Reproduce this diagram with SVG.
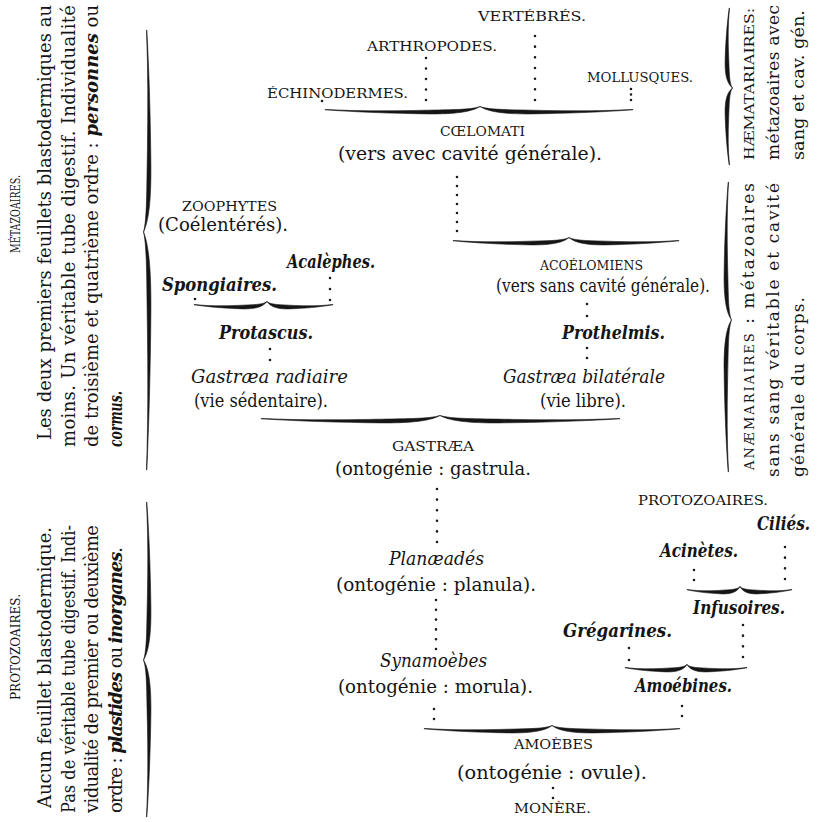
<svg xmlns="http://www.w3.org/2000/svg" xmlns:xlink="http://www.w3.org/1999/xlink" width="819" height="822" viewBox="0 0 819 822">
<defs>
<style>
text{font-family:"DejaVu Serif","Liberation Serif",serif;fill:#151515}
.t{font-size:18px}
.sc{font-size:13.5px}
.scs{font-size:12.5px}
.scr{font-size:13px}
.it{font-size:18px;font-style:italic}
.bi{font-size:18px;font-style:italic;font-weight:bold}
.r{font-size:17px}
.dot{stroke:#1a1a1a;stroke-width:2.6;stroke-linecap:round;fill:none}
.br{fill:#151515;stroke:#151515;stroke-width:0.6}
</style>
<path id="hb" d="M-1000,-2.5 C-800,-0.9 -600,-1.0 -400,-1.6 C-200,-2.4 -60,-2.0 0,-5.5 C-50,-0.5 -150,2.2 -330,1.9 C-550,1.5 -800,0.1 -1000,-2.2 Z" vector-effect="non-scaling-stroke"/>
</defs>
<rect width="819" height="822" fill="#ffffff"/>

<g id="braces">
<use xlink:href="#hb" class="br" transform="translate(480,112) scale(0.155,1)"/>
<use xlink:href="#hb" class="br" transform="translate(480,112) scale(-0.153,1)"/>
<use xlink:href="#hb" class="br" transform="translate(569,243) scale(0.116,1)"/>
<use xlink:href="#hb" class="br" transform="translate(569,243) scale(-0.110,1)"/>
<use xlink:href="#hb" class="br" transform="translate(267,307) scale(0.073,1)"/>
<use xlink:href="#hb" class="br" transform="translate(267,307) scale(-0.066,1)"/>
<use xlink:href="#hb" class="br" transform="translate(440,421) scale(0.179,1)"/>
<use xlink:href="#hb" class="br" transform="translate(440,421) scale(-0.180,1)"/>
<use xlink:href="#hb" class="br" transform="translate(740,592) scale(0.053,1)"/>
<use xlink:href="#hb" class="br" transform="translate(740,592) scale(-0.052,1)"/>
<use xlink:href="#hb" class="br" transform="translate(687,670) scale(0.062,1)"/>
<use xlink:href="#hb" class="br" transform="translate(687,670) scale(-0.060,1)"/>
<use xlink:href="#hb" class="br" transform="translate(552,731) scale(0.128,1)"/>
<use xlink:href="#hb" class="br" transform="translate(552,731) scale(-0.128,1)"/>
<use xlink:href="#hb" class="br" transform="translate(149,232) rotate(-90) scale(0.238,1)"/>
<use xlink:href="#hb" class="br" transform="translate(149,232) rotate(-90) scale(-0.202,1)"/>
<use xlink:href="#hb" class="br" transform="translate(149,660) rotate(-90) scale(0.157,1)"/>
<use xlink:href="#hb" class="br" transform="translate(149,660) rotate(-90) scale(-0.158,1)"/>
<use xlink:href="#hb" class="br" transform="translate(727,88) rotate(90) scale(0.080,1)"/>
<use xlink:href="#hb" class="br" transform="translate(727,88) rotate(90) scale(-0.077,1)"/>
<use xlink:href="#hb" class="br" transform="translate(726,320) rotate(90) scale(0.138,1)"/>
<use xlink:href="#hb" class="br" transform="translate(726,320) rotate(90) scale(-0.152,1)"/>
</g>

<g id="connectors">
<circle cx="322" cy="101" r="1.3" fill="#1a1a1a"/>
<line class="dot" x1="426" y1="58" x2="426" y2="100.5" stroke-dasharray="0 10.5"/>
<line class="dot" x1="535" y1="36" x2="535" y2="100.5" stroke-dasharray="0 10.67"/>
<line class="dot" x1="631" y1="89" x2="631" y2="100.5" stroke-dasharray="0 5.5"/>
<line class="dot" x1="457" y1="177" x2="457" y2="231.5" stroke-dasharray="0 9"/>
<circle cx="195" cy="299" r="1.3" fill="#1a1a1a"/>
<line class="dot" x1="330" y1="278" x2="330" y2="300.5" stroke-dasharray="0 11"/>
<line class="dot" x1="587" y1="304" x2="587" y2="316.5" stroke-dasharray="0 12"/>
<line class="dot" x1="270" y1="349" x2="270" y2="360.5" stroke-dasharray="0 11"/>
<line class="dot" x1="587" y1="348" x2="587" y2="358.5" stroke-dasharray="0 10"/>
<line class="dot" x1="437" y1="489" x2="437" y2="542.5" stroke-dasharray="0 10.6"/>
<line class="dot" x1="436" y1="600" x2="436" y2="649.5" stroke-dasharray="0 9.8"/>
<line class="dot" x1="434" y1="709" x2="434" y2="719.5" stroke-dasharray="0 10"/>
<line class="dot" x1="682" y1="706" x2="682" y2="716.5" stroke-dasharray="0 10"/>
<line class="dot" x1="553" y1="788" x2="553" y2="798.5" stroke-dasharray="0 10"/>
<line class="dot" x1="694" y1="570" x2="694" y2="580.5" stroke-dasharray="0 10"/>
<line class="dot" x1="785" y1="547" x2="785" y2="579.5" stroke-dasharray="0 10.67"/>
<line class="dot" x1="743" y1="625" x2="743" y2="657.5" stroke-dasharray="0 10.67"/>
<line class="dot" x1="629" y1="648" x2="629" y2="660.5" stroke-dasharray="0 12"/>
</g>

<g id="metazoaires">
<text class="scs" transform="translate(20,253) rotate(-90)" textLength="78" lengthAdjust="spacingAndGlyphs">MÉTAZOAIRES.</text>
<text class="t" transform="translate(51,440) rotate(-90)" textLength="435" lengthAdjust="spacing">Les deux premiers feuillets blastodermiques au</text>
<text class="t" transform="translate(74.5,447) rotate(-90)" textLength="442" lengthAdjust="spacing">moins. Un véritable tube digestif. Individualité</text>
<text class="t" transform="translate(98,447) rotate(-90)" textLength="442" lengthAdjust="spacing">de troisième et quatrième ordre : <tspan class="bi">personnes</tspan> ou</text>
<text class="bi" transform="translate(121.5,447) rotate(-90)" textLength="56" lengthAdjust="spacingAndGlyphs">cormus.</text>
</g>

<g id="protozoaires">
<text class="scs" transform="translate(20,700) rotate(-90)" textLength="106" lengthAdjust="spacingAndGlyphs">PROTOZOAIRES.</text>
<text class="t" transform="translate(51,808) rotate(-90)" textLength="281" lengthAdjust="spacing">Aucun feuillet blastodermique.</text>
<text class="t" transform="translate(74.5,813) rotate(-90)" textLength="288" lengthAdjust="spacingAndGlyphs">Pas de véritable tube digestif. Indi-</text>
<text class="t" transform="translate(98,813) rotate(-90)" textLength="288" lengthAdjust="spacing">vidualité de premier ou deuxième</text>
<text class="t" transform="translate(121.5,813) rotate(-90)" textLength="266" lengthAdjust="spacing">ordre : <tspan class="bi">plastides</tspan> ou <tspan class="bi">inorganes</tspan>.</text>
</g>

<g id="haematariaires">
<text class="scr" transform="translate(754,160) rotate(-90)" textLength="152" lengthAdjust="spacingAndGlyphs">HÆMATARIAIRES:</text>
<text class="r" transform="translate(779,160) rotate(-90)" textLength="155" lengthAdjust="spacing">métazoaires avec</text>
<text class="r" transform="translate(804,160) rotate(-90)" textLength="150" lengthAdjust="spacingAndGlyphs">sang et cav. gén.</text>
</g>

<g id="anaemariaires">
<text class="r" transform="translate(754,470) rotate(-90)" textLength="287" lengthAdjust="spacing"><tspan class="scr">ANÆMARIAIRES</tspan> : métazoaires</text>
<text class="r" transform="translate(779,477) rotate(-90)" textLength="294" lengthAdjust="spacing">sans sang véritable et cavité</text>
<text class="r" transform="translate(804,477) rotate(-90)" textLength="180" lengthAdjust="spacing">générale du corps.</text>
</g>

<g id="vertebres"><text class="sc" x="478" y="21" textLength="108" lengthAdjust="spacingAndGlyphs">VERTÉBRÉS.</text></g>
<g id="arthropodes"><text class="sc" x="367" y="51" textLength="130" lengthAdjust="spacingAndGlyphs">ARTHROPODES.</text></g>
<g id="mollusques"><text class="sc" x="587" y="82" textLength="106" lengthAdjust="spacingAndGlyphs">MOLLUSQUES.</text></g>
<g id="echinodermes"><text class="sc" x="267" y="98" textLength="141" lengthAdjust="spacingAndGlyphs">ÉCHINODERMES.</text></g>
<g id="coelomati">
<text class="sc" x="440" y="136" textLength="85" lengthAdjust="spacingAndGlyphs">CŒLOMATI</text>
<text class="t" x="338" y="160" textLength="264" lengthAdjust="spacingAndGlyphs">(vers avec cavité générale).</text>
</g>
<g id="zoophytes">
<text class="sc" x="182" y="211" textLength="95" lengthAdjust="spacingAndGlyphs">ZOOPHYTES</text>
<text class="t" x="158" y="231" textLength="130" lengthAdjust="spacingAndGlyphs">(Coélentérés).</text>
</g>
<g id="acalephes"><text class="bi" x="287" y="268" textLength="88" lengthAdjust="spacingAndGlyphs">Acalèphes.</text></g>
<g id="spongiaires"><text class="bi" x="162" y="291" textLength="115" lengthAdjust="spacingAndGlyphs">Spongiaires.</text></g>
<g id="acoelomiens">
<text class="sc" x="540" y="270" textLength="103" lengthAdjust="spacingAndGlyphs">ACOÉLOMIENS</text>
<text class="t" x="496" y="292" textLength="214" lengthAdjust="spacingAndGlyphs">(vers sans cavité générale).</text>
</g>
<g id="protascus"><text class="bi" x="219" y="339" textLength="94" lengthAdjust="spacingAndGlyphs">Protascus.</text></g>
<g id="prothelmis"><text class="bi" x="562" y="339" textLength="103" lengthAdjust="spacingAndGlyphs">Prothelmis.</text></g>
<g id="gastraea-radiaire">
<text class="it" x="191" y="383" textLength="157" lengthAdjust="spacingAndGlyphs">Gastræa radiaire</text>
<text class="t" x="194" y="407" textLength="134" lengthAdjust="spacingAndGlyphs">(vie sédentaire).</text>
</g>
<g id="gastraea-bilaterale">
<text class="it" x="503" y="383" textLength="162" lengthAdjust="spacingAndGlyphs">Gastræa bilatérale</text>
<text class="t" x="540" y="407" textLength="86" lengthAdjust="spacingAndGlyphs">(vie libre).</text>
</g>
<g id="gastraea">
<text class="sc" x="392" y="451" textLength="82" lengthAdjust="spacingAndGlyphs">GASTRÆA</text>
<text class="t" x="335" y="475" textLength="196" lengthAdjust="spacingAndGlyphs">(ontogénie : gastrula.</text>
</g>
<g id="planaeades">
<text class="it" x="389" y="565" textLength="95" lengthAdjust="spacingAndGlyphs">Planæadés</text>
<text class="t" x="336" y="591" textLength="200" lengthAdjust="spacingAndGlyphs">(ontogénie : planula).</text>
</g>
<g id="synamoebes">
<text class="it" x="380" y="667" textLength="107" lengthAdjust="spacingAndGlyphs">Synamoèbes</text>
<text class="t" x="338" y="693" textLength="195" lengthAdjust="spacingAndGlyphs">(ontogénie : morula).</text>
</g>
<g id="protozoaires-label"><text class="sc" x="638" y="505" textLength="130" lengthAdjust="spacingAndGlyphs">PROTOZOAIRES.</text></g>
<g id="cilies"><text class="bi" x="757" y="530" textLength="53" lengthAdjust="spacingAndGlyphs">Ciliés.</text></g>
<g id="acinetes"><text class="bi" x="660" y="557" textLength="78" lengthAdjust="spacingAndGlyphs">Acinètes.</text></g>
<g id="infusoires"><text class="bi" x="693" y="614" textLength="92" lengthAdjust="spacingAndGlyphs">Infusoires.</text></g>
<g id="gregarines"><text class="bi" x="563" y="637" textLength="109" lengthAdjust="spacingAndGlyphs">Grégarines.</text></g>
<g id="amoebines"><text class="bi" x="635" y="692" textLength="97" lengthAdjust="spacingAndGlyphs">Amoébines.</text></g>
<g id="amoebes">
<text class="sc" x="514" y="749" textLength="79" lengthAdjust="spacingAndGlyphs">AMOÈBES</text>
<text class="t" x="457" y="779" textLength="190" lengthAdjust="spacingAndGlyphs">(ontogénie : ovule).</text>
</g>
<g id="monere"><text class="sc" x="514" y="813" textLength="77" lengthAdjust="spacingAndGlyphs">MONÈRE.</text></g>
</svg>
